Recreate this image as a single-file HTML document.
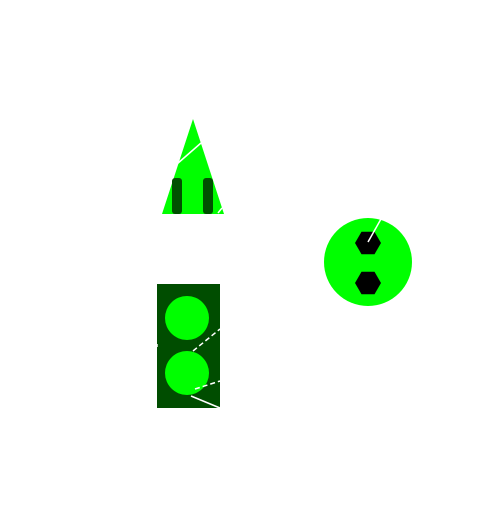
<!DOCTYPE html>
<html><head><style>html,body{margin:0;padding:0;background:#fff}</style></head>
<body>
<svg width="500" height="500" xmlns="http://www.w3.org/2000/svg">
<g>
<polygon points="193,119 162,214 224,214" fill="#00ff00"/>
<rect x="172" y="178" width="10" height="36" rx="3" fill="#005000"/>
<rect x="203" y="178" width="10" height="36" rx="3" fill="#005000"/>
<line x1="177" y1="164" x2="201" y2="143" stroke="#fff" stroke-width="1.5"/>
<line x1="218" y1="213" x2="222" y2="208" stroke="#fff" stroke-width="1.5"/>
</g>
<g>
<rect x="157" y="284" width="63" height="124" fill="#004d00"/>
<circle cx="187" cy="318" r="22" fill="#00ff00"/>
<circle cx="187" cy="373" r="22" fill="#00ff00"/>
<line x1="193" y1="351" x2="220" y2="329" stroke="#fff" stroke-width="1.5" stroke-dasharray="5,3"/>
<line x1="195" y1="389" x2="220" y2="381" stroke="#fff" stroke-width="1.5" stroke-dasharray="5,3"/>
<line x1="191" y1="396" x2="220" y2="408" stroke="#fff" stroke-width="1.5"/>
<line x1="157" y1="344" x2="157" y2="347" stroke="#fff" stroke-width="1.5"/>
</g>
<g>
<circle cx="368" cy="262" r="44" fill="#00ff00"/>
<polygon points="355,243 361.5,231.7 374.5,231.7 381,243 374.5,254.3 361.5,254.3" fill="#000"/>
<polygon points="355,283 361.5,271.7 374.5,271.7 381,283 374.5,294.3 361.5,294.3" fill="#000"/>
<line x1="368" y1="242" x2="381" y2="219" stroke="#fff" stroke-width="1.5"/>
</g>
</svg>
</body></html>
